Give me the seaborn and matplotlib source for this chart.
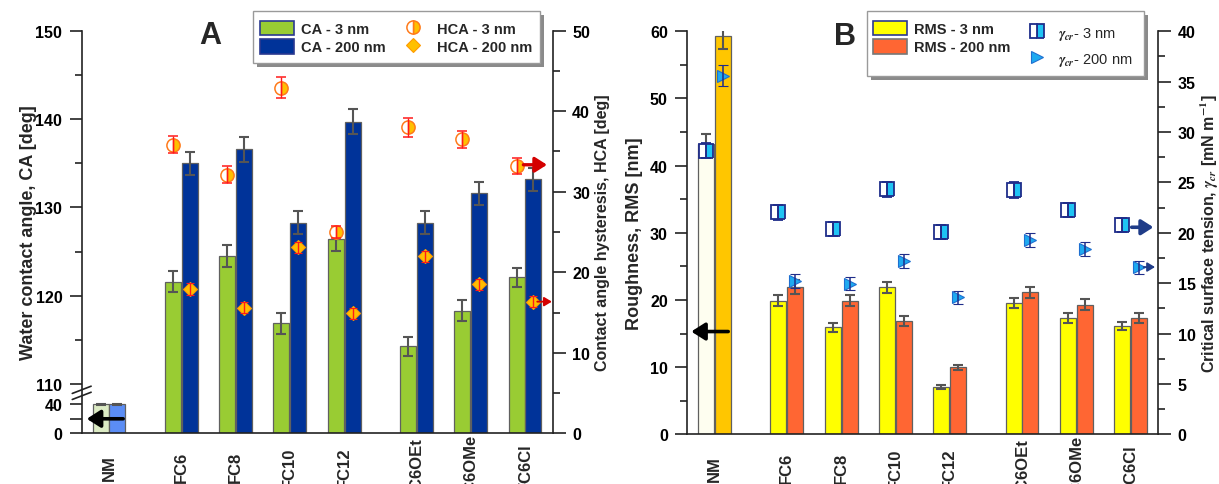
import numpy as np
import pandas as pd
import matplotlib
matplotlib.use("Agg")
import matplotlib.pyplot as plt
import seaborn as sns
from matplotlib.patches import Patch, Rectangle
from matplotlib.lines import Line2D
from matplotlib.ticker import FixedLocator, MultipleLocator

# ---------------- data ----------------
categories = ["NM", "FC6", "FC8", "FC10", "FC12", "FC6OEt", "FC6OMe", "FC6Cl"]
positions = [0.0, 1.33, 2.33, 3.33, 4.33, 5.66, 6.66, 7.66]

# Panel A - water contact angle (deg), left axis
ca_3nm = [40.0, 121.6, 124.5, 116.9, 126.4, 114.3, 118.3, 122.1]
ca_3nm_err = [0.4, 1.2, 1.25, 1.2, 1.3, 1.1, 1.2, 1.1]
ca_200nm = [40.0, 135.0, 136.6, 128.3, 139.7, 128.3, 131.6, 133.2]
ca_200nm_err = [0.4, 1.3, 1.4, 1.25, 1.4, 1.25, 1.3, 1.3]
# Panel A - contact angle hysteresis (deg), right axis (no value for NM)
hca_3nm = [35.85, 32.1, 42.9, 25.0, 38.0, 36.5, 33.2]
hca_3nm_err = [1.1, 1.05, 1.3, 0.8, 1.15, 1.1, 1.0]
hca_200nm = [17.9, 15.6, 23.1, 14.9, 22.0, 18.5, 16.35]
hca_200nm_err = [0.75, 0.7, 0.72, 0.7, 0.7, 0.7, 0.7]

# Panel B - roughness RMS (nm), left axis
rms_3nm = [43.2, 19.9, 15.95, 21.9, 7.0, 19.5, 17.3, 16.1]
rms_3nm_err = [1.5, 0.8, 0.65, 0.8, 0.3, 0.75, 0.75, 0.6]
rms_200nm = [59.3, 21.9, 19.9, 16.9, 9.95, 21.15, 19.3, 17.3]
rms_200nm_err = [2.0, 1.0, 0.8, 0.75, 0.4, 0.85, 0.85, 0.75]
# Panel B - critical surface tension (mN/m), right axis
gcr_3nm = [28.15, 22.05, 20.4, 24.3, 20.05, 24.25, 22.3, 20.8]
gcr_3nm_err = [0.75, 0.75, 0.7, 0.75, 0.7, 0.75, 0.7, 0.7]
gcr_200nm = [35.6, 15.25, 14.95, 17.2, 13.6, 19.25, 18.4, 16.6]
gcr_200nm_err = [1.05, 0.7, 0.65, 0.7, 0.65, 0.7, 0.7, 0.65]

# ---------------- style ----------------
sns.set_theme(style="ticks")
plt.rcParams["font.family"] = ["Liberation Sans", "DejaVu Sans"]
plt.rcParams["font.weight"] = "bold"
plt.rcParams["axes.labelweight"] = "bold"
plt.rcParams["mathtext.fontset"] = "stix"

W, H = 1219, 485
fig = plt.figure(figsize=(W / 100, H / 100), dpi=100)
axA = fig.add_axes([81.7 / W, (H - 434.3) / H, 471 / W, 402.6 / H])
axB = fig.add_axes([687.3 / W, (H - 435.3) / H, 471 / W, 403 / H])

SPINE = "#222222"


def ca_fwd(v):
    v = np.asarray(v, dtype=float)
    return np.where(v <= 40, v * 0.725,
                    np.where(v <= 110, 29 + (v - 40) * 0.2857, 49 + (v - 110) * 8.83))


def ca_inv(y):
    y = np.asarray(y, dtype=float)
    return np.where(y <= 29, y / 0.725,
                    np.where(y <= 49, 40 + (y - 29) / 0.2857, 110 + (y - 49) / 8.83))


def draw_bars(ax, v3, v200, e3, e200, colors, nm_colors, edge):
    n = len(categories)
    df = pd.DataFrame({"pos": positions + positions,
                       "value": v3 + v200,
                       "series": ["3 nm"] * n + ["200 nm"] * n})
    sns.barplot(data=df, x="pos", y="value", hue="series", native_scale=True,
                width=0.62, gap=0.05, palette=colors, saturation=1, edgecolor=edge,
                linewidth=0.9, errorbar=None, legend=False, ax=ax)
    centers = []
    for cont, nmc, vals, errs in zip(ax.containers, nm_colors, (v3, v200), (e3, e200)):
        patches = sorted(cont.patches, key=lambda p: p.get_x())
        patches[0].set_facecolor(nmc)
        xs = [p.get_x() + p.get_width() / 2 for p in patches]
        ax.errorbar(xs, vals, yerr=errs, fmt="none", ecolor="#555555",
                    elinewidth=1.5, capsize=3.5, capthick=1.5, zorder=3)
        centers.append(xs)
    return centers


def style_axes(ax, ax2):
    ax.spines["top"].set_visible(False)
    ax.spines["right"].set_visible(False)
    ax2.spines["top"].set_visible(False)
    ax2.spines["left"].set_visible(False)
    ax2.spines["bottom"].set_visible(False)
    for a in (ax, ax2):
        for sp in a.spines.values():
            sp.set_color(SPINE)
            sp.set_linewidth(1.2)
        a.tick_params(axis="y", which="major", length=9, width=1.2, pad=5,
                      labelsize=11.5, color=SPINE, labelcolor="black")
        a.tick_params(axis="y", which="minor", length=4.8, width=1.2, color=SPINE)
    ax.tick_params(axis="x", length=0, pad=24)
    ax.set_xticks(positions)
    ax.set_xticklabels(categories, rotation=90, va="center", fontsize=12,
                       fontweight="bold")
    ax.set_xlim(-0.503, 8.17)
    ax.set_xlabel("")


def arrow(ax, x0, x1, y, color, lw, ms, hl=0.55, hw=0.35):
    ax.annotate("", xy=(x1, y), xytext=(x0, y),
                arrowprops=dict(arrowstyle=f"-|>,head_length={hl},head_width={hw}",
                                lw=lw, color=color, shrinkA=0, shrinkB=0,
                                mutation_scale=ms))


# ---------------- Panel A ----------------
green, navy = "#99CC33", "#003399"
cA = draw_bars(axA, ca_3nm, ca_200nm, ca_3nm_err, ca_200nm_err,
               [green, navy], ["#DCEBC4", "#5B8DF5"], "#606060")
axA.set_yscale("function", functions=(ca_fwd, ca_inv))
axA.set_ylim(0, 150)
axA.yaxis.set_major_locator(FixedLocator([0, 20, 40, 110, 120, 130, 140, 150]))
axA.set_yticklabels(["0", "", "40", "110", "120", "130", "140", "150"])
axA.yaxis.set_minor_locator(FixedLocator([115, 125, 135, 145]))
axA.set_ylabel("Water contact angle, CA [deg]", fontsize=13)
axA.yaxis.set_label_coords(-0.095, 0.5)

axA2 = axA.twinx()
axA2.set_ylim(0, 50)
axA2.yaxis.set_major_locator(MultipleLocator(10))
axA2.yaxis.set_minor_locator(MultipleLocator(5))
axA2.set_ylabel("Contact angle hysteresis, HCA [deg]", fontsize=11.5)
axA2.yaxis.set_label_coords(1.089, 0.5)

circ_kw = dict(marker="o", ms=9.5, mfc="#FFC000", mfcalt="white", fillstyle="right",
               mec="#FF7A1A", mew=1.1)
diam_kw = dict(marker="D", ms=7.5, mfc="#FFC000", mec="#FF9A00", mew=0.8)
axA2.errorbar(cA[0][1:], hca_3nm, yerr=hca_3nm_err, ls="none", ecolor="#FF1A1A",
              elinewidth=1.0, capsize=3.5, capthick=1.0, barsabove=True, **circ_kw)
axA2.errorbar(cA[1][1:], hca_200nm, yerr=hca_200nm_err, ls="none", ecolor="#FF1A1A",
              elinewidth=1.0, capsize=3, capthick=1.0, barsabove=True, **diam_kw)

style_axes(axA, axA2)

arrow(axA, positions[0] + 0.26, positions[0] - 0.41, 20, "black", 2.6, 15)
arrow(axA2, cA[0][-1] + 0.125, cA[0][-1] + 0.56, hca_3nm[-1] + 0.15, "#D40000", 2.4, 13)
arrow(axA2, cA[1][-1] + 0.07, cA[1][-1] + 0.34, hca_200nm[-1], "#D40000", 1.3, 9, 0.5, 0.3)

# break marks on left axis
for yb in (0.093, 0.108):
    axA.plot([-0.02, 0.02], [yb - 0.009, yb + 0.009], transform=axA.transAxes,
             color=SPINE, lw=1.2, clip_on=False, zorder=5)

# ---------------- Panel B ----------------
yellow, orange = "#FFFF00", "#FF6633"
cB = draw_bars(axB, rms_3nm, rms_200nm, rms_3nm_err, rms_200nm_err,
               [yellow, orange], ["#FEFEF0", "#FFC600"], "#606060")
axB.set_ylim(0, 60)
axB.yaxis.set_major_locator(MultipleLocator(10))
axB.yaxis.set_minor_locator(MultipleLocator(5))
axB.set_ylabel("Roughness, RMS [nm]", fontsize=13)
axB.yaxis.set_label_coords(-0.095, 0.5)

axB2 = axB.twinx()
axB2.set_ylim(0, 40)
axB2.yaxis.set_major_locator(MultipleLocator(5))
axB2.yaxis.set_minor_locator(MultipleLocator(2.5))
axB2.set_ylabel(r"Critical surface tension, $\gamma_{cr}$ [mN m$^{-1}$]", fontsize=11.5)
axB2.yaxis.set_label_coords(1.086, 0.5)

sq_kw = dict(marker="s", ms=9.5, mfc="#1FC4F4", mfcalt="white", fillstyle="right",
             mec="#1F2D8A", mew=1.3)
tri_kw = dict(marker=">", ms=9, mfc="#1EAAF0", mec="#1F6FD0", mew=0.8)
axB2.errorbar(cB[0], gcr_3nm, yerr=gcr_3nm_err, ls="none", ecolor="#1F2D8A",
              elinewidth=1.1, capsize=3.5, capthick=1.1, barsabove=True, **sq_kw)
axB2.errorbar(cB[1], gcr_200nm, yerr=gcr_200nm_err, ls="none", ecolor="#1F2D8A",
              elinewidth=1.1, capsize=3.5, capthick=1.1, barsabove=True, **tri_kw)

style_axes(axB, axB2)

arrow(axB, positions[0] + 0.25, positions[0] - 0.43, 15.3, "black", 2.6, 15)
arrow(axB2, cB[0][-1] + 0.175, cB[0][-1] + 0.575, gcr_3nm[-1] - 0.25, "#1F3C88", 2.6, 13)
arrow(axB2, cB[1][-1] + 0.085, cB[1][-1] + 0.295, gcr_200nm[-1], "#1F3C88", 1.3, 9, 0.5, 0.3)


# ---------------- legends (framed boxes with shadow) ----------------
def legend_box(x0, y0, x1, y1):
    sh = 4
    fig.add_artist(Rectangle((x0 / W + sh / W, 1 - (y1 + sh) / H), (x1 - x0) / W,
                             (y1 - y0) / H, transform=fig.transFigure,
                             facecolor="#8A8A8A", edgecolor="none", zorder=3.8))
    fig.add_artist(Rectangle((x0 / W, 1 - y1 / H), (x1 - x0) / W, (y1 - y0) / H,
                             transform=fig.transFigure, facecolor="white",
                             edgecolor="#9A9A9A", lw=1.0, zorder=3.9))


def sub_legend(handles, x, y, hl, htp, ls):
    return fig.legend(handles=handles, loc="upper left", bbox_to_anchor=(x / W, 1 - y / H),
                      bbox_transform=fig.transFigure, borderaxespad=0, borderpad=0,
                      frameon=False, fontsize=10.5, handlelength=hl, handleheight=1.15,
                      handletextpad=htp, labelspacing=ls)


legend_box(253.3, 12.3, 540, 64.3)
sub_legend([Patch(facecolor=green, edgecolor="#2B3990", lw=1.2, label="CA - 3 nm"),
            Patch(facecolor=navy, edgecolor="#2B3990", lw=1.2, label="CA - 200 nm")],
           260, 21.7, 2.3, 0.5, 0.22)
sub_legend([Line2D([], [], ls="none", label="HCA - 3 nm", **circ_kw),
            Line2D([], [], ls="none", label="HCA - 200 nm", **diam_kw)],
           398.7, 21.7, 2.0, 0.6, 0.22)

legend_box(866.7, 12.3, 1143.8, 77.3)
sub_legend([Patch(facecolor=yellow, edgecolor="#2B3990", lw=1.2, label="RMS - 3 nm"),
            Patch(facecolor=orange, edgecolor="#777777", lw=1.2, label="RMS - 200 nm")],
           873, 21.7, 2.3, 0.5, 0.22)
legG = sub_legend([Line2D([], [], ls="none", label=r"$\gamma_{cr}$- 3 nm", **sq_kw),
                   Line2D([], [], ls="none", label=r"$\gamma_{cr}$- 200 nm", **tri_kw)],
                  1022.1, 25.9, 2.0, 0.46, 0.6)
for t in legG.get_texts():
    t.set_fontweight("normal")

# panel letters
fig.text(210.5 / W, 1 - 36.5 / H, "A", fontsize=22, fontweight="heavy",
         ha="center", va="center")
fig.text(845 / W, 1 - 36.7 / H, "B", fontsize=22, fontweight="heavy",
         ha="center", va="center")

fig.savefig("out.png", dpi=100)
